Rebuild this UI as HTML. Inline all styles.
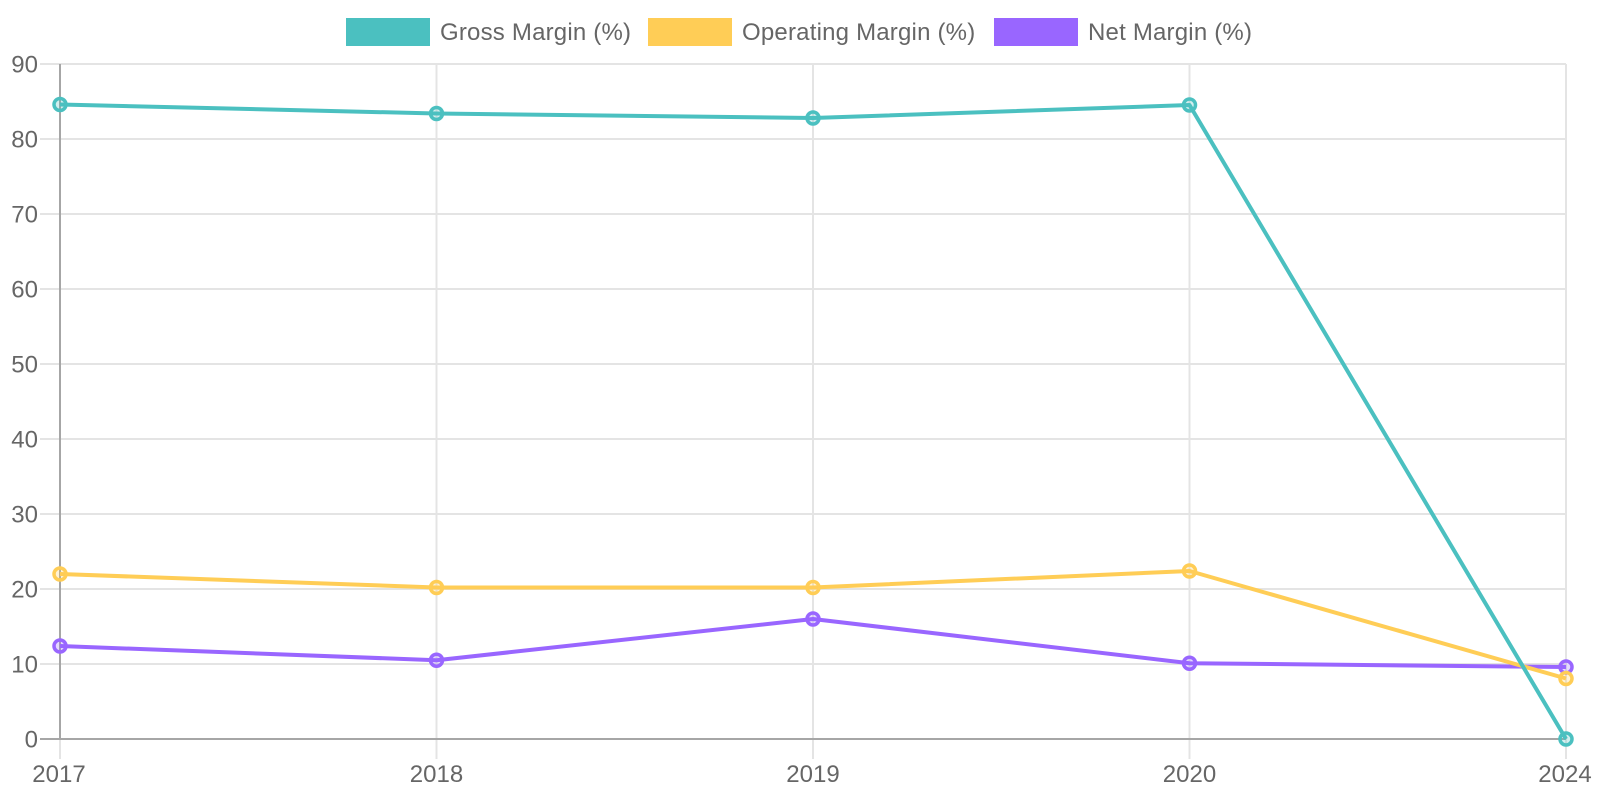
<!DOCTYPE html>
<html><head><meta charset="utf-8"><style>
html,body{margin:0;padding:0;background:#fff;}
svg{display:block;}
text{font-family:"Liberation Sans",sans-serif;font-size:24px;fill:#666;}
.lg{letter-spacing:0.2px;}
</style></head><body>
<svg width="1600" height="800" viewBox="0 0 1600 800" xmlns="http://www.w3.org/2000/svg">
<rect width="1600" height="800" fill="#fff"/>
<!-- legend -->
<rect x="346" y="18" width="84" height="28" fill="#4bc0c0"/>
<text class="lg" x="440" y="40">Gross Margin (%)</text>
<rect x="648" y="18" width="84" height="28" fill="#ffcd56"/>
<text class="lg" x="742" y="40">Operating Margin (%)</text>
<rect x="994" y="18" width="84" height="28" fill="#9966ff"/>
<text class="lg" x="1088" y="40">Net Margin (%)</text>
<!-- horizontal grid -->
<g stroke="#e4e4e4" stroke-width="2">
<line x1="40" y1="64" x2="1566" y2="64"/>
<line x1="40" y1="139" x2="1566" y2="139"/>
<line x1="40" y1="214" x2="1566" y2="214"/>
<line x1="40" y1="289" x2="1566" y2="289"/>
<line x1="40" y1="364" x2="1566" y2="364"/>
<line x1="40" y1="439" x2="1566" y2="439"/>
<line x1="40" y1="514" x2="1566" y2="514"/>
<line x1="40" y1="589" x2="1566" y2="589"/>
<line x1="40" y1="664" x2="1566" y2="664"/>
<!-- vertical grid -->
<line x1="60" y1="64" x2="60" y2="759"/>
<line x1="436.5" y1="64" x2="436.5" y2="759"/>
<line x1="813" y1="64" x2="813" y2="759"/>
<line x1="1189.5" y1="64" x2="1189.5" y2="759"/>
<line x1="1566" y1="64" x2="1566" y2="759"/>
</g>
<!-- axes -->
<g stroke="#a6a6a6" stroke-width="2">
<line x1="60" y1="64" x2="60" y2="740"/>
<line x1="40" y1="739" x2="1566" y2="739"/>
</g>
<!-- y labels -->
<g text-anchor="end">
<text x="38" y="72.5">90</text>
<text x="38" y="147.5">80</text>
<text x="38" y="222.5">70</text>
<text x="38" y="297.5">60</text>
<text x="38" y="372.5">50</text>
<text x="38" y="447.5">40</text>
<text x="38" y="522.5">30</text>
<text x="38" y="597.5">20</text>
<text x="38" y="672.5">10</text>
<text x="38" y="747.5">0</text>
</g>
<!-- x labels -->
<g text-anchor="middle">
<text x="59" y="782">2017</text>
<text x="436.5" y="782">2018</text>
<text x="813" y="782">2019</text>
<text x="1189.5" y="782">2020</text>
<text x="1565" y="782">2024</text>
</g>
<!-- Net -->
<polyline fill="none" stroke="#9966ff" stroke-width="4" stroke-linejoin="round" points="60,646 436.5,660.25 813,619 1189.5,663.25 1566,667"/>
<g fill="rgba(153,102,255,0.25)" stroke="#9966ff" stroke-width="3.5">
<circle cx="60" cy="646" r="6"/><circle cx="436.5" cy="660.25" r="6"/><circle cx="813" cy="619" r="6"/><circle cx="1189.5" cy="663.25" r="6"/><circle cx="1566" cy="667" r="6"/>
</g>
<!-- Operating -->
<polyline fill="none" stroke="#ffcd56" stroke-width="4" stroke-linejoin="round" points="60,574 436.5,587.5 813,587.5 1189.5,571 1566,678.5"/>
<g fill="rgba(255,205,86,0.25)" stroke="#ffcd56" stroke-width="3.5">
<circle cx="60" cy="574" r="6"/><circle cx="436.5" cy="587.5" r="6"/><circle cx="813" cy="587.5" r="6"/><circle cx="1189.5" cy="571" r="6"/><circle cx="1566" cy="678.5" r="6"/>
</g>
<!-- Gross -->
<polyline fill="none" stroke="#4bc0c0" stroke-width="4" stroke-linejoin="round" points="60,104.5 436.5,113.5 813,118 1189.5,105 1566,739"/>
<g fill="rgba(75,192,192,0.25)" stroke="#4bc0c0" stroke-width="3.5">
<circle cx="60" cy="104.5" r="6"/><circle cx="436.5" cy="113.5" r="6"/><circle cx="813" cy="118" r="6"/><circle cx="1189.5" cy="105" r="6"/><circle cx="1566" cy="739" r="6"/>
</g>
</svg>
</body></html>
